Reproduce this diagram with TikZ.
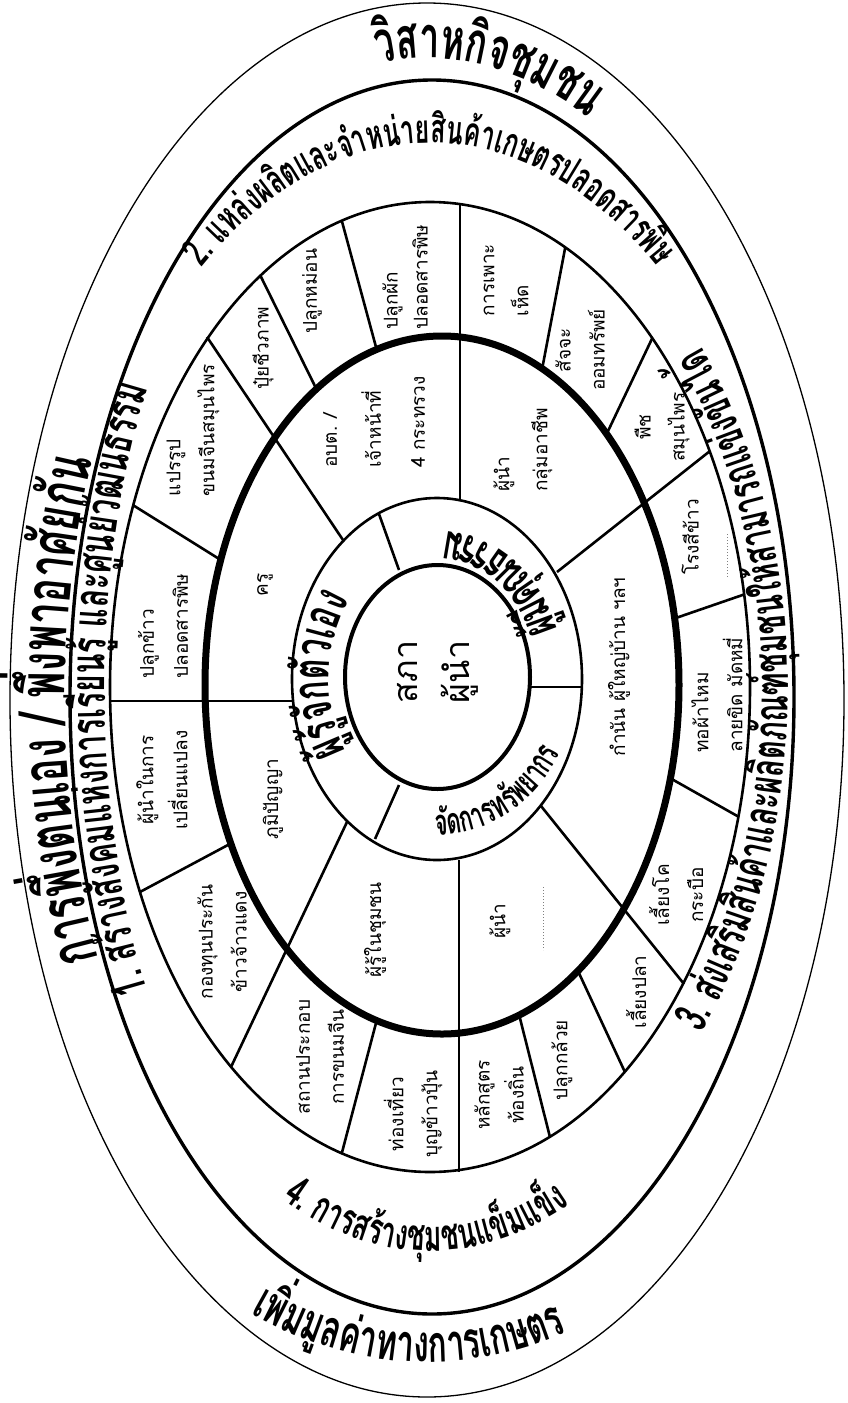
\documentclass[tikz,border=0pt]{standalone}
\usepackage{fontspec}
\newfontfamily\thaiR[Script=Thai]{Loma}
\newfontfamily\thaiX[Script=Thai,FakeStretch=0.62]{Loma}
\newcommand\cellfont{\thaiR\fontsize{19}{34}\selectfont}
\newcommand\bthai{\thaiX\bfseries}
\newlength\twid
% #1 macro to define, #2 text, #3 wanted length (pt)
\newcommand\fitfs[3]{\settowidth\twid{\bthai\fontsize{10}{10}\selectfont #2}%
  \ifdim\twid<1pt \twid=60pt\fi
  \pgfmathsetmacro#1{10*#3/\twid}}
\usetikzlibrary{decorations.text}
\def\tA{{วิ}{ส}{า}{ห}{กิ}{จ}{ชุ}{ม}{ช}{น}}
\def\tB{{2.} {แ}{ห}{ล่}{ง}{ผ}{ลิ}{ต}{แ}{ล}{ะ}{จำ}{ห}{น่}{า}{ย}{สิ}{น}{ค้}{า}{เ}{ก}{ษ}{ต}{ร}{ป}{ล}{อ}{ด}{ส}{า}{ร}{พิ}{ษ}}
\def\tC{{4.} {ก}{า}{ร}{ส}{ร้}{า}{ง}{ชุ}{ม}{ช}{น}{แ}{ข็}{ม}{แ}{ข็}{ง}}
\def\tD{{เ}{พิ่}{ม}{มู}{ล}{ค่}{า}{ท}{า}{ง}{ก}{า}{ร}{เ}{ก}{ษ}{ต}{ร}}
\def\tE{{ก}{า}{ร}{พึ่}{ง}{ต}{น}{เ}{อ}{ง} {/} {พึ่}{ง}{พ}{า}{อ}{า}{ศั}{ย}{กั}{น}}
\def\tF{{1.} {ส}{ร้}{า}{ง}{สั}{ง}{ค}{ม}{แ}{ห่}{ง}{ก}{า}{ร}{เ}{รี}{ย}{น}{รู้} {แ}{ล}{ะ}{ศู}{น}{ย์}{วั}{ฒ}{น}{ธ}{ร}{ร}{ม}}
\def\tG{{3.} {ส่}{ง}{เ}{ส}{ริ}{ม}{สิ}{น}{ค้}{า}{แ}{ล}{ะ}{ผ}{ลิ}{ต}{ภั}{ณ}{ฑ์}{ชุ}{ม}{ช}{น}{ใ}{ห้}{ส}{า}{ม}{า}{ร}{ถ}{แ}{ข่}{ง}{ขั}{น}{ไ}{ด้}}
\def\tH{{ผู้}{มี}{คุ}{ณ}{ธ}{ร}{ร}{ม}}
\def\tI{{จั}{ด}{ก}{า}{ร}{ท}{รั}{พ}{ย}{า}{ก}{ร}}
\def\tJ{{ผู้}{รู้}{จั}{ก}{ตั}{ว}{เ}{อ}{ง}}
\begin{document}
\fitfs\fsA{\tA}{225}%
\fitfs\fsB{\tB}{540}%
\fitfs\fsC{\tC}{312}%
\fitfs\fsD{\tD}{330}%
\fitfs\fsE{\tE}{505}%
\fitfs\fsF{\tF}{615}%
\fitfs\fsG{\tG}{720}%
\fitfs\fsH{\tH}{158}%
\fitfs\fsI{\tI}{158}%
\fitfs\fsJ{\tJ}{158}%
\begin{tikzpicture}[x=1pt,y=-1pt,
  cell/.style={rotate=90,font=\cellfont,align=center,inner sep=0pt},
  cellL/.style={cell,align=left},
  div/.style={line width=2.6pt},
  thin/.style={line width=1.3pt},
  arctext/.style 2 args={decorate,decoration={text along path,text align=center,
    text/.expanded={|\noexpand\bthai\noexpand\fontsize{#1}{#1}\noexpand\selectfont|#2}}},
]
\fill[white] (0,0) rectangle (847,1403);
\useasboundingbox (0,0) rectangle (847,1403);

% ---- ellipses
\draw[thin] (427,700) ellipse[x radius=417,y radius=697];
\draw[line width=3.4pt] (432,697) ellipse[x radius=362,y radius=617];
\draw[line width=2.6pt] (430,687) ellipse[x radius=320,y radius=485];
\draw[line width=2.6pt] (437,679) ellipse[x radius=145,y radius=181];

% ---- short dividers (thick ellipse to third ellipse)
\foreach \ta/\tb in {-106/-106,-122/-122,-159/-158,153/155,106/106,71/68,55/52.5,15.5/15.5,-11/-11,-46/-46,-65/-65}
  \draw[div] ([shift={(442,685)}]\ta:237 and 349) -- ([shift={(430,687)}]\tb:320 and 485);
% ---- long spokes
\draw[div] (460,499) -- (460,203);
\draw[div] (557,572) -- (710,451);
\draw[div] (541,806) -- (684,984);
\draw[div] (459,860) -- (459,1172);
\draw[div] (347,822) -- (231,1067);
\draw[div] (293,701) -- (110,701);
\draw[div] (343,540) -- (207,337);
% ---- inner ring dividers
\draw[div] (379,514) -- (399,570);
\draw[div] (399,785) -- (375,839);
\draw[div] (530,687) -- (582,687);

\draw[line width=7pt] (442,685) ellipse[x radius=237,y radius=349];
\draw[line width=4pt] (437.5,677) ellipse[x radius=92.5,y radius=112];

% ---- curved titles (font size fitted to the wanted length)
\path[shift={(427,700)},arctext={\fsA}{\tA}]
  (-125:382 and 642) arc[start angle=-125,end angle=-41,x radius=382,y radius=642];
\path[shift={(430,690)},arctext={\fsB}{\tB}]
  (-155:359 and 547) arc[start angle=-155,end angle=-25,x radius=359,y radius=547];
\path[shift={(430,690)},arctext={\fsC}{\tC}]
  (145:350 and 561) arc[start angle=145,end angle=36,x radius=350,y radius=561];
\path[shift={(427,700)},arctext={\fsD}{\tD}]
  (138:470 and 662) arc[start angle=138,end angle=46,x radius=470,y radius=662];
\path[shift={(432,697)},arctext={\fsE}{\tE}]
  (128.5:367 and 625) arc[start angle=128.5,end angle=228.5,x radius=367,y radius=625];
\path[shift={(431,690)},arctext={\fsF}{\tF}]
  (120:326 and 611) arc[start angle=120,end angle=240,x radius=326,y radius=611];
\path[shift={(430,690)},arctext={\fsG}{\tG}]
  (62:358 and 525) arc[start angle=62,end angle=-62,x radius=358,y radius=525];

% ---- inner ring titles
\path[shift={(437,679)},arctext={\fsH}{\tH}]
  (13:128 and 148) arc[start angle=13,end angle=-123,x radius=128,y radius=148];
\path[shift={(437,679)},arctext={\fsI}{\tI}]
  (130:140 and 156) arc[start angle=130,end angle=-8,x radius=140,y radius=156];
\path[shift={(437,679)},arctext={\fsJ}{\tJ}]
  (117:108 and 135) arc[start angle=117,end angle=247,x radius=108,y radius=135];

% ---- centre
\node[cellL,font=\thaiR\fontsize{34}{52}\selectfont] (centre) at (438,672) {สภา\\ผู้นำ};

% ---- ring cells
\node[cellL,font=\thaiR\fontsize{19}{44}\selectfont] (r1) at (374,422) {อบต. /\\เจ้าหน้าที่\\4 กระทรวง};
\node[cellL,font=\thaiR\fontsize{19}{38}\selectfont] (r2) at (523,450) {ผู้นำ\\กลุ่มอาชีพ};
\node[cell] (r3) at (619,667) {กำนัน ผู้ใหญ่บ้าน ฯลฯ};
\node[cell] (r4) at (500,921) {ผู้นำ};
\draw[gray,dotted,line width=1pt] (543,887) -- (543,950);
\node[cell] (r5) at (375,930) {ผู้รู้ในชุมชน};
\node[cell] (r6) at (273,799) {ภูมิปัญญา};
\node[cell] (r7) at (265,585) {ครู};

% ---- outer cells
\node[cellL,font=\thaiR\fontsize{19}{30}\selectfont] (c01) at (405,277) {ปลูกผัก\\ปลอดสารพิษ};
\node[cell] (c02) at (312,291) {ปลูกหม่อน};
\node[cell] (c03) at (263,348) {ปุ๋ยชีวภาพ};
\node[cellL] (c04) at (193,430) {แปรรูป\\ขนมจีนสมุนไพร};
\node[cellL] (c05) at (163,626) {ปลูกข้าว\\ปลอดสารพิษ};
\node[cell] (c06) at (162,780) {ผู้นำในการ\\เปลี่ยนแปลง};
\node[cell] (c07) at (222,942) {กองทุนประกัน\\ข้าวจ้าวแดง};
\node[cell] (c08) at (320,1057) {สถานประกอบ\\การขนมจีน};
\node[cell] (c09) at (413,1114) {ท่องเที่ยว\\บุญข้าวปุ้น};
\node[cell] (c10) at (499,1095) {หลักสูตร\\ท้องถิ่น};
\node[cell] (c11) at (562,1060) {ปลูกกล้วย};
\node[cell] (c12) at (636,992) {เลี้ยงปลา};
\node[cell] (c13) at (676,895) {เลี้ยงโค\\กระบือ};
\node[cellL] (c14) at (717,695) {ทอผ้าไหม\\ลายขิด มัดหมี่};
\node[cell] (c15) at (690,537) {โรงสีข้าว};
\draw[gray,dotted,line width=1pt] (727,534) -- (727,577);
\node[cell] (c16) at (662,427) {พืช\\สมุนไพร};
\node[cell] (c17) at (580,350) {สัจจะ\\ออมทรัพย์};
\node[cellL] (c18) at (506,280) {การเพาะ\\เห็ด};
\end{tikzpicture}
\end{document}
